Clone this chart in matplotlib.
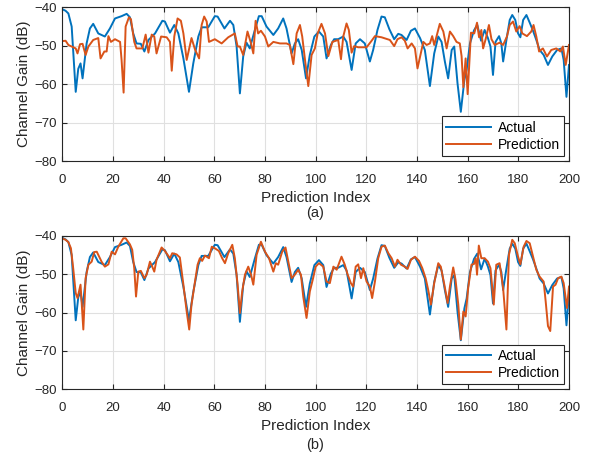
import numpy as np
import matplotlib.pyplot as plt

plt.rcParams['font.family'] = ['Liberation Sans', 'DejaVu Sans']

# Actual channel gain (same trace in both panels)
actual_x = [0, 1.3, 2.4, 3.7, 5.3, 6.3, 7.2, 8, 9.6, 10.9, 12.2, 14.2, 16.8, 18.8, 20.8,
            23.4, 25.4, 26.7, 28, 29.3, 31, 32.4, 34, 36.6, 39.5, 40.5, 42.5, 44.2, 45.8,
            47.8, 50, 51.7, 53.7, 55, 57.6, 60.2, 61.3, 64, 66.2, 67.5, 68.8, 70.1, 71.4,
            72.7, 74, 76, 77.6, 78.7, 80.6, 83.3, 85.2, 87.2, 88.5, 90.5, 91.8, 93.1,
            94.5, 96.2, 97.7, 99.5, 101.3, 103, 104.3, 106, 107.3, 108.9, 110.9, 112.2,
            114.2, 115.8, 117.5, 119.4, 121.4, 122.7, 124.4, 126, 127.3, 129.1, 131,
            132.6, 133.9, 135.9, 137.6, 139.2, 141.2, 143.1, 145.1, 146.8, 148.4, 149.7,
            151, 152.3, 153.7, 154.7, 156, 157.3, 158.7, 159.6, 160.9, 162.5, 163.8,
            165.3, 166.7, 168, 169, 170, 171, 172.4, 173.3, 174, 175.3, 176.6, 177.6,
            178.8, 179.9, 180.8, 181.9, 183.2, 184.5, 185.8, 187.1, 188.4, 190, 191.7,
            193.4, 195.3, 197, 197.9, 199, 200]
actual_y = [-40.5, -40.9, -41.6, -45, -62, -56, -54.6, -58.5, -49.4, -45.5, -44.3, -46.8,
            -47.6, -45.5, -42.9, -42.3, -41.7, -42.6, -46.8, -49.4, -49.5, -51.5, -48.5,
            -46.8, -43.5, -43.7, -46.6, -44.6, -46.8, -53.3, -62, -54.6, -47.6, -45.2,
            -45.2, -42.3, -42.4, -45.5, -43.5, -44.6, -50.2, -62.4, -52.8, -49.2, -50.7,
            -45.9, -42.3, -42.3, -45, -47.2, -45.5, -42.9, -45.5, -52, -49.4, -48.3,
            -51.1, -58.5, -52.4, -47.6, -46.3, -47.6, -53.3, -49.8, -48.3, -48.3, -47.6,
            -49, -56.3, -49.4, -48.3, -49.4, -54.1, -51.1, -45.9, -42.4, -42.6, -45.7,
            -48.3, -46.9, -47.2, -48.5, -46.1, -45.5, -48, -51.1, -60.5, -52, -47.6, -49,
            -54.1, -58.5, -51.1, -50.2, -59.8, -67.2, -58.9, -56.3, -49.4, -46, -44.6,
            -48.7, -45.9, -48, -50.2, -57.6, -49, -47.5, -49.4, -54.1, -48.5, -43.3,
            -42, -43.3, -46.8, -47.8, -43.3, -42, -44, -46.1, -48.5, -51.1, -52.4, -55,
            -52.8, -51.1, -50.7, -53.7, -63.3, -55]

# Prediction of panel (a)
pred_a_x = [0, 1.3, 2.4, 4.3, 5.3, 6, 7, 8, 9.2, 10.3, 12.2, 14.2, 15.1, 16.6, 17.5, 18.2,
            19.2, 20.8, 22.8, 23.4, 24.2, 25, 26.3, 27.1, 28.4, 29.3, 31.6, 32.9, 34,
            35.3, 36.3, 37.2, 39, 41.2, 42.5, 43.2, 44.2, 45.5, 46.8, 47.8, 49.1, 51,
            52.4, 54, 55, 56, 57, 57.9, 60.2, 62.9, 65.5, 68.1, 69.2, 70.1, 71.4, 73.1,
            74.5, 75.4, 76.3, 77.3, 78.4, 80, 81.3, 83.3, 85.9, 88.5, 89.8, 91.2, 92.5,
            93.8, 94.7, 95.8, 97.1, 98.4, 99.7, 100.8, 102.3, 103.7, 105, 106.6, 108.9,
            110, 110.9, 112.2, 113.1, 114.2, 115.2, 116.8, 120.1, 122.1, 123.4, 126,
            129.3, 131, 132.3, 133.9, 135.2, 136.3, 137.9, 139.2, 140.2, 141.5, 142.5,
            143.8, 145.1, 146, 146.8, 147.7, 149, 150.4, 151.7, 153, 154.3, 155.6, 156.9,
            157.6, 158.3, 159.2, 160, 161.3, 162.6, 163.7, 164.5, 165.4, 166.1, 167.1,
            168.4, 169.4, 170.7, 172.6, 174, 175.5, 176.6, 177.9, 179.2, 180.5, 181.6,
            183.4, 185.1, 186, 187.1, 188.2, 189.7, 191.3, 193, 195, 196.6, 197.6, 198.7,
            200]
pred_a_y = [-48.8, -48.7, -49.8, -50.4, -50.7, -52, -49.6, -49.5, -52.4, -50.2, -48.5, -48,
            -53.3, -51.5, -51.5, -47.5, -49, -48.3, -49, -53.7, -62.2, -45, -42.6, -43.1,
            -49, -50.7, -50.7, -47.1, -51.8, -47.1, -47.6, -52, -47.6, -47.8, -49, -56.5,
            -47.6, -42.9, -43.5, -46.8, -53.7, -48, -51, -53.3, -44.6, -42.4, -43.7, -49,
            -48.3, -49.4, -47.8, -46.8, -50.2, -50.2, -52.4, -46.3, -49.4, -52, -43.5,
            -46.8, -46.1, -47.6, -50.2, -49, -49.4, -49.4, -49.8, -54.8, -46.8, -44.6,
            -47.6, -53.7, -60.5, -52.4, -50.7, -46.8, -44.3, -46.8, -52.7, -49, -48.5,
            -53.5, -47.6, -44.2, -45.9, -51.8, -50.1, -50.4, -50.4, -48.7, -47.5, -47.8,
            -48.5, -50.1, -48.3, -47.8, -48.7, -50.7, -49.4, -50.7, -55.9, -52, -49,
            -49.8, -49.4, -47.5, -49.8, -47.6, -44.3, -46.3, -50.7, -46.3, -47.5, -49,
            -49.4, -52.7, -60.8, -53.3, -62.6, -46.6, -46.8, -44, -47.8, -45.9, -50.7,
            -48.3, -44.6, -48.3, -49.8, -49.2, -49.8, -47.6, -44.6, -43.7, -46.3, -44.9,
            -46.8, -47.5, -46.3, -44.6, -47.6, -51.5, -50.7, -52.8, -51.1, -50.7, -51.5,
            -50.2, -55, -49.8]

# Prediction of panel (b)
pred_b_x = [0, 1.3, 2.4, 3.4, 4.3, 5.3, 6, 7.2, 8.3, 9.2, 10.3, 11.6, 12.6, 13.6, 15.5,
            16.8, 18.2, 19.5, 20.8, 22.1, 24.1, 25, 26.7, 27.6, 28.4, 29.1, 30, 31, 32.4,
            33.3, 34.6, 35.5, 36.3, 37.2, 39.2, 40.5, 42.5, 43.4, 45.1, 46.4, 47.8, 49.1,
            50.1, 51, 52.4, 53.4, 54.3, 55.2, 56.3, 57.9, 59, 60.2, 61.8, 63.1, 64.2,
            65.5, 67.1, 68.1, 69.2, 70.1, 71, 72.1, 73.4, 74.5, 75.4, 76.7, 78.4, 80,
            81.6, 83.3, 84.3, 85.2, 86.8, 88.1, 89.2, 90.5, 91.8, 93.1, 94.2, 95.1, 96.4,
            97.7, 99, 100, 101.3, 103, 104.3, 105.6, 107, 108.3, 110.2, 111.5, 112.6,
            113.9, 114.8, 115.8, 116.8, 117.9, 118.8, 120.1, 121.4, 122.3, 123.4, 124.7,
            126, 127.3, 128.7, 130, 131.3, 132.3, 133.7, 135.2, 136.3, 137.6, 139.2,
            140.8, 142.1, 143.4, 144.4, 145.5, 146.8, 148.4, 149.4, 150.8, 152.1, 153,
            154.3, 155.2, 156.3, 157.3, 158.3, 159.2, 160.2, 161.5, 162.5, 163.2, 163.7,
            164.4, 165.4, 166.7, 168, 169, 170.3, 171.3, 172.6, 174, 175.3, 176.3, 177.6,
            178.6, 179.9, 180.8, 182.1, 183.2, 184.5, 185.8, 187.1, 188.4, 190, 190.8,
            191.7, 192.6, 193.7, 194.7, 195.7, 197, 197.9, 199.2, 200]
pred_b_y = [-40.6, -41, -41.6, -43.2, -48.4, -54.9, -56.2, -52.7, -64.4, -51, -47.5, -46.7,
            -44.2, -44.1, -46.7, -48, -47.4, -44.1, -44.8, -42.8, -40.6, -40.6, -42.2,
            -43.6, -48.4, -55.8, -49.3, -49.1, -51, -50.1, -46.7, -48, -49.3, -46.2, -43,
            -43.9, -45.8, -44.5, -44.8, -45.6, -52.7, -59.7, -64.4, -57.9, -51.9, -47.5,
            -45.8, -46.5, -45.1, -45.8, -42.8, -43.2, -43.9, -45.8, -47.1, -44.5, -42.3,
            -45.8, -52.7, -60.1, -54.5, -50.1, -48, -50.1, -52.7, -44.9, -41.5, -44.1,
            -45.8, -49.3, -47.1, -47.5, -44.1, -43, -46.7, -51, -50.1, -48.8, -50.1, -55.8,
            -61.4, -54.5, -51, -48, -47.1, -48, -51.9, -52.3, -48, -48.8, -45.4, -47.5,
            -50, -52.3, -53.2, -48, -47.4, -51, -48.4, -51.9, -53.2, -56.2, -51.9, -45.8,
            -42.8, -42.5, -44.5, -45.8, -48, -46.2, -47.5, -48, -48.6, -46.2, -45.4,
            -46.5, -48.4, -51, -54, -57.9, -52.3, -47.1, -48, -52.7, -57.5, -53.2, -48.2,
            -51.4, -57.9, -67, -59.7, -61, -53.6, -47.5, -47.3, -45.8, -50.1, -42.5,
            -45.8, -45.8, -46.7, -48.4, -57.9, -47.5, -47.1, -53.6, -64.4, -44.9, -41,
            -41.9, -45.4, -47.4, -42.8, -41.3, -41.9, -45.4, -48.8, -50.6, -51.9, -57.1,
            -63.5, -64.8, -53.2, -52.7, -51, -50.6, -52.3, -58.8, -53.2]

blue = '#0072BD'
orange = '#D95319'
dark = '#262626'

fig = plt.figure(figsize=(5.95, 4.66), dpi=100)
ax_a = fig.add_axes([0.1047, 0.6545, 0.8516, 0.3298])
ax_b = fig.add_axes([0.1047, 0.1646, 0.8516, 0.3290])

panels = [(ax_a, pred_a_x, pred_a_y, '(a)', 0.542), (ax_b, pred_b_x, pred_b_y, '(b)', 0.046)]
for ax, px, py, tag, ty in panels:
    ax.plot(actual_x, actual_y, color=blue, lw=1.4, label='Actual')
    ax.plot(px, py, color=orange, lw=1.4, label='Prediction')
    ax.set_xlim(0, 200)
    ax.set_ylim(-80, -40)
    ax.set_xticks(np.arange(0, 201, 20))
    ax.set_yticks(np.arange(-80, -39, 10))
    ax.grid(True, color='#e0e0e0', lw=0.8)
    ax.set_axisbelow(True)
    for s in ax.spines.values():
        s.set_color(dark)
        s.set_linewidth(0.8)
    ax.tick_params(direction='in', length=3.5, width=0.8, top=True, right=True,
                   colors=dark, labelsize=9.5, labelcolor=dark)
    ax.tick_params(axis='x', pad=9)
    ax.tick_params(axis='y', pad=4)
    ax.set_xlabel('Prediction Index', fontsize=11, color=dark, labelpad=4)
    ax.set_ylabel('Channel Gain (dB)', fontsize=11, color=dark, labelpad=2)
    leg = ax.legend(loc='lower right', fontsize=10, frameon=True, fancybox=False,
                    edgecolor=dark, framealpha=1, handlelength=3.2, borderaxespad=0.35,
                    handletextpad=0.5, borderpad=0.3, labelspacing=0.25)
    leg.get_frame().set_linewidth(0.8)
    fig.text(0.529, ty, tag, ha='center', va='center', fontsize=10.5, color=dark)

fig.savefig('out.png', dpi=100)
